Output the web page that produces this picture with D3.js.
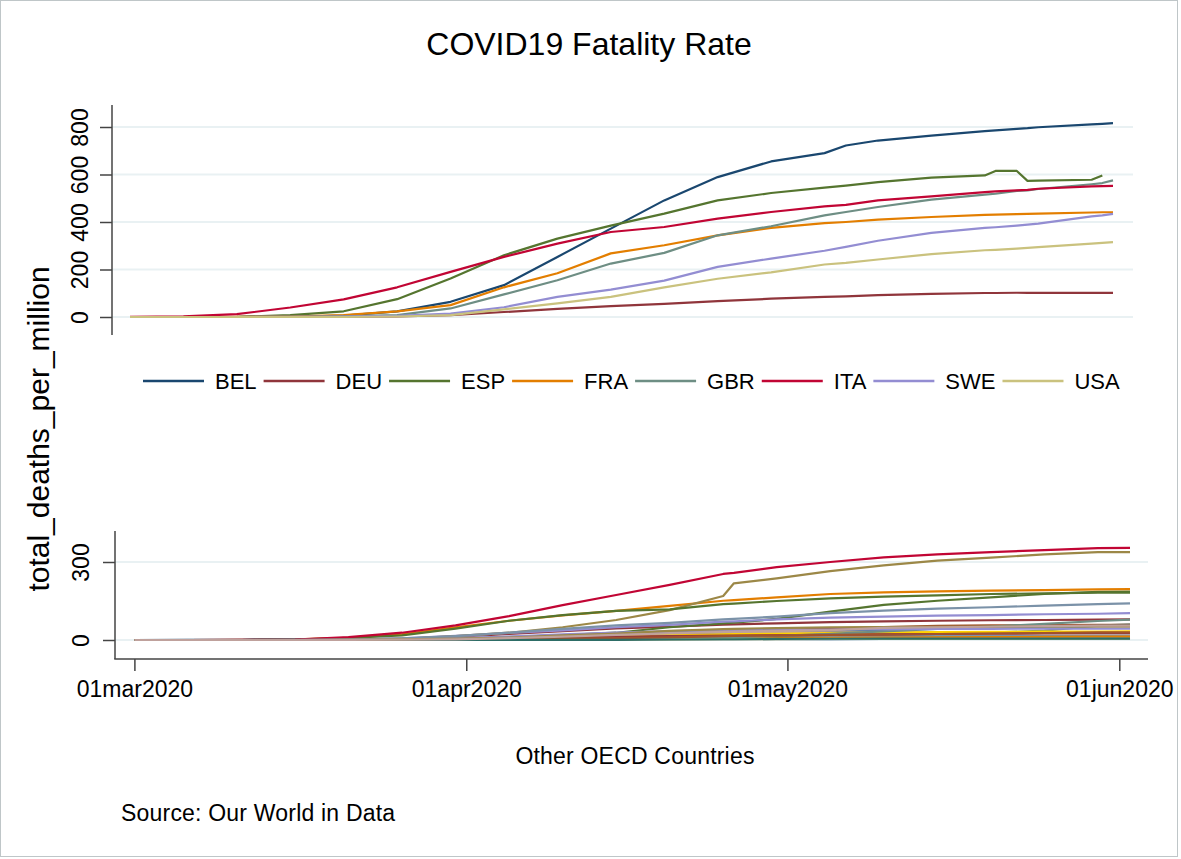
<!DOCTYPE html>
<html>
<head>
<meta charset="utf-8">
<script src="https://cdn.jsdelivr.net/npm/d3@7"></script>
<style>
body{margin:0;background:#fff;}
text{font-family:"Liberation Sans",Arial,sans-serif;fill:#000;}
</style>
</head>
<body>
<script>
// top panel: dates and total_deaths_per_million for the 8 named countries
var topDates = ["2020-03-01","2020-03-06","2020-03-11","2020-03-16","2020-03-21","2020-03-26","2020-03-31",
                "2020-04-05","2020-04-10","2020-04-15","2020-04-20","2020-04-25","2020-04-30","2020-05-05",
                "2020-05-07","2020-05-10","2020-05-15","2020-05-20","2020-05-21","2020-05-23","2020-05-24",
                "2020-05-25","2020-05-30","2020-05-31","2020-06-01"];
var topCountries = ["BEL","DEU","ESP","FRA","GBR","ITA","SWE","USA"];
var BEL = [0,0,0,1,6,24,64,134,253,372,491,589,655,690,722,743,764,783,786,792,795,799,811,813,816];
var DEU = [0,0,0,0,1,3,8,21,34,46,55,67,77,85,87,92,97,101,101,102,102,102,102,102,102];
var ESP = [0,0,1,8,24,75,162,260,330,385,435,491,522,545,553,568,587,596,615,615,573,574,578,596,null];
var FRA = [0,0,1,2,8,24,50,125,184,268,302,344,375,395,400,410,421,430,431,433,434,435,440,441,441];
var GBR = [0,0,0,1,3,8,36,95,155,225,270,344,382,428,442,463,494,515,519,531,533,539,559,564,575];
var ITA = [1,3,12,40,74,125,190,253,309,358,379,414,442,466,472,491,508,526,529,533,535,540,550,551,552];
var SWE = [0,0,0,1,2,5,14,41,85,115,153,211,246,279,295,321,354,375,378,385,389,393,424,428,434];
var USA = [0,0,0,0,0,2,8,32,57,85,125,161,188,221,228,242,265,281,283,288,291,294,309,312,315];
var topValues = [BEL, DEU, ESP, FRA, GBR, ITA, SWE, USA];
var topTicks = [0, 200, 400, 600, 800];

// bottom panel: other OECD countries
var botDates = ["2020-03-01","2020-03-06","2020-03-11","2020-03-16","2020-03-21","2020-03-26","2020-03-31",
                "2020-04-05","2020-04-10","2020-04-15","2020-04-20","2020-04-25","2020-04-26","2020-04-30",
                "2020-05-05","2020-05-10","2020-05-15","2020-05-20","2020-05-25","2020-05-30","2020-06-02"];
var botCountries = ["AUS","AUT","CAN","CHE","CHL","CZE","DNK","EST","FIN","GRC","HUN","IRL","ISL","ISR",
                    "JPN","KOR","LTU","LUX","LVA","MEX","NLD","NOR","NZL","POL","PRT","SVK","SVN","TUR"];
var AUS = [0,0,0,0.2,0.3,0.5,0.7,1.1,2,2.5,2.6,3,3,3.6,3.7,3.8,3.9,3.9,4,4,4];
var AUT = [0,0,0,0.1,1,4,12,23,34,45,51,59,60,64,69,72,74,76,77,78,79];
var CAN = [0,0,0,0.1,0.6,1.7,6,11,19,28,49,64,67,81,109,135,151,164,177,185,186];
var CHE = [0,0,0.3,2.5,8,22,49,74,95,112,131,151,153,164,177,183,187,190,192,195,196];
var CHL = [0,0,0,0,0,0.1,0.6,1.3,3,4.5,6,9,9.5,12,15,19,23,28,36,55,60];
var CZE = [0,0,0,0,0.2,1,3,7,11,15,16,19,20,21,23,25,27,29,30,30,30];
var DNK = [0,0,0,0.5,2.5,6,16,27,37,49,58,71,72,79,86,90,94,96,99,101,103];
var EST = [0,0,0,0,0,0.8,3,9,18,26,33,35,36,38,42,47,50,51,52,52,52];
var FIN = [0,0,0,0,0.2,1.6,2.4,4.5,8.5,13,18,31,33,38,45,50,54,56,57,58,58];
var GRC = [0,0,0,0.4,1.2,2.7,4.4,7,11,12,12,13,13,13,14,15,15,16,16,17,17];
var HUN = [0,0,0,0,0.1,1,2,3.5,8,12,19,22,23,27,32,38,45,48,51,54,55];
var IRL = [0,0,0,0,1,4,15,28,49,77,115,169,218,237,265,287,305,317,329,338,338];
var ISL = [0,0,0,0,0,6,6,12,17,23,29,29,29,29,29,29,29,29,29,29,29];
var ISR = [0,0,0,0,0,0.6,1.7,5,10,16,19,22,23,24,27,28,30,31,32,32,33];
var JPN = [0,0,0,0.2,0.3,0.4,0.5,0.7,1.1,1.4,2.2,2.9,3,3.5,4.6,5,5.5,6.1,6.5,7,7];
var KOR = [0,0.2,1,1.5,2,2.6,3.2,3.5,4,4.4,4.6,4.7,4.7,4.8,4.9,5,5.1,5.1,5.2,5.3,5.3];
var LTU = [0,0,0,0,0.4,1.1,2.6,5,8,13,15,17,17,18,21,22,23,24,25,26,26];
var LUX = [0,0,0,1.6,8,18,44,74,96,112,118,138,140,150,160,167,172,177,179,182,182];
var LVA = [0,0,0,0,0,0,0,0.5,1,2,6,7,7,8,8.5,9.5,10,11,12,13,13];
var MEX = [0,0,0,0,0,0,0.2,0.6,1.5,3.5,5.5,10,11,15,24,33,43,52,62,73,78];
var NLD = [0,0,0.3,1.5,11,28,56,92,134,173,212,254,258,280,300,318,329,338,346,353,354];
var NOR = [0,0,0,0,0.6,2.3,7,13,22,28,34,37,38,39,40,41,43,43,44,44,44];
var NZL = [0,0,0,0,0,0,0.2,0.2,0.3,1.9,2.4,3.5,3.5,3.7,4,4.3,4.3,4.3,4.3,4.5,4.5];
var POL = [0,0,0,0,0.1,0.4,1,4,5.5,7,10,15,16,17,20,21,23,25,27,29,29];
var PRT = [0,0,0,0.1,1.2,5.9,15,28,43,56,66,79,81,90,103,113,121,126,132,138,141];
var SVK = [0,0,0,0,0,0,0.2,0.2,0.6,0.7,2,2.8,2.8,4.2,4.9,5,5,5,5,5.1,5.1];
var SVN = [0,0,0,0,0.5,2.5,5.5,9.6,18,25,35,42,43,46,49,50,51,52,52,52,52];
var TUR = [0,0,0,0,0.2,1.1,2.5,7,13,20,25,31,32,35,38,47,49,51,53,55,55];
var botValues = [AUS,AUT,CAN,CHE,CHL,CZE,DNK,EST,FIN,GRC,HUN,IRL,ISL,ISR,
                 JPN,KOR,LTU,LUX,LVA,MEX,NLD,NOR,NZL,POL,PRT,SVK,SVN,TUR];
var botTicks = [0, 300];
var xTickDates = ["2020-03-01","2020-04-01","2020-05-01","2020-06-01"];

// stata s2color pens, used in order
var pens = ["#1a476f","#90353b","#55752f","#e37e00","#6e8e84","#c10534","#938dd2","#cac27e",
            "#a0522d","#7b92a8","#2d6d66","#9c8847","#bfa19c","#ffd200","#d9e6eb"];

function init(){
    var w = 1181;
    var h = 859;
    var parse = d3.timeParse("%Y-%m-%d");
    var axisColor = "#444";
    var gridColor = "#e9f1f3";
    var tickFont = "23px";

    var svg = d3.select("body")
                .append("svg")
                .attr("width", w)
                .attr("height", h);

    // graph region border
    svg.append("rect")
        .attr("x", 0.5).attr("y", 0.5)
        .attr("width", 1177).attr("height", 856)
        .attr("fill", "#fff")
        .attr("stroke", "#bfc6c8");

    //title
    svg.append("text")
        .attr("x", 589).attr("y", 55)
        .attr("text-anchor", "middle")
        .style("font-size", "32px")
        .text("COVID19 Fatality Rate");

    // y title shared by both panels
    svg.append("text")
        .attr("transform", "translate(49,429) rotate(-90)")
        .attr("text-anchor", "middle")
        .style("font-size", "30px")
        .text("total_deaths_per_million");

    //---------------- top panel
    var top = {left: 112, right: 1133, top: 105, bottom: 335};
    var xTop = d3.scaleTime()
                 .domain([parse("2020-03-01"), parse("2020-06-01")])
                 .range([130, 1113]);
    var yTop = d3.scaleLinear()
                 .domain([0, 800])
                 .range([317, 127]);

    drawGrid(top, yTop, topTicks);
    drawYAxis(top, yTop, topTicks, -24);

    var lineTop = d3.line()
                    .defined(function(d){ return d[1] != null; })
                    .x(function(d){ return xTop(d[0]); })
                    .y(function(d){ return yTop(d[1]); });

    svg.append("g").selectAll("path")
        .data(topValues)
        .enter()
        .append("path")
        .attr("d", function(vals){
            return lineTop(vals.map(function(v, i){ return [parse(topDates[i]), v]; }));
        })
        .attr("fill", "none")
        .attr("stroke", function(d, i){ return pens[i % pens.length]; })
        .attr("stroke-width", 2.2)
        .attr("stroke-linejoin", "round");

    //legend, one row
    var leg = svg.append("g");
    var lx = 143, ly = 381;
    topCountries.forEach(function(c, i){
        leg.append("line")
            .attr("x1", lx).attr("x2", lx + 61)
            .attr("y1", ly).attr("y2", ly)
            .attr("stroke", pens[i])
            .attr("stroke-width", 2.5);
        var t = leg.append("text")
            .attr("x", lx + 72).attr("y", ly + 8)
            .style("font-size", "22px")
            .text(c);
        lx = lx + 72 + t.node().getComputedTextLength() + 7;
    });

    //---------------- bottom panel
    var bot = {left: 115, right: 1148, top: 531, bottom: 659};
    var xBot = d3.scaleTime()
                 .domain([parse("2020-03-01"), parse("2020-06-01")])
                 .range([134.4, 1119.3]);
    var yBot = d3.scaleLinear()
                 .domain([0, 300])
                 .range([640, 562]);

    drawGrid(bot, yBot, botTicks);
    drawYAxis(bot, yBot, botTicks, -26);

    var lineBot = d3.line()
                    .x(function(d){ return xBot(d[0]); })
                    .y(function(d){ return yBot(d[1]); });

    svg.append("g").selectAll("path")
        .data(botValues)
        .enter()
        .append("path")
        .attr("d", function(vals){
            return lineBot(vals.map(function(v, i){ return [parse(botDates[i]), v]; }));
        })
        .attr("fill", "none")
        .attr("stroke", function(d, i){ return pens[i % pens.length]; })
        .attr("stroke-width", 2.2)
        .attr("stroke-linejoin", "round");

    // x axis of bottom panel
    var fmt = d3.timeFormat("%d%b%Y");
    var xAxis = d3.axisBottom(xBot)
                  .tickValues(xTickDates.map(parse))
                  .tickSize(12)
                  .tickPadding(10)
                  .tickFormat(function(d){ return fmt(d).toLowerCase(); });
    var gx = svg.append("g")
                .attr("transform", "translate(0," + bot.bottom + ")")
                .call(xAxis);
    gx.select(".domain").remove();
    gx.selectAll("line").attr("stroke", axisColor).attr("stroke-width", 1.5);
    gx.selectAll("text")
        .style("font-size", tickFont)
        .style("font-family", "'Liberation Sans',Arial,sans-serif")
        .attr("fill", "#000");
    svg.append("line")
        .attr("x1", bot.left - 0.75).attr("x2", bot.right)
        .attr("y1", bot.bottom).attr("y2", bot.bottom)
        .attr("stroke", axisColor).attr("stroke-width", 1.5);

    //notes
    svg.append("text")
        .attr("x", 635).attr("y", 764)
        .attr("text-anchor", "middle")
        .style("font-size", "23px")
        .style("letter-spacing", "0.2px")
        .text("Other OECD Countries");
    svg.append("text")
        .attr("x", 121).attr("y", 821)
        .style("font-size", "23px")
        .style("letter-spacing", "0.2px")
        .text("Source: Our World in Data");

    function drawGrid(r, y, ticks){
        svg.append("g").selectAll("line")
            .data(ticks)
            .enter()
            .append("line")
            .attr("x1", r.left).attr("x2", r.right)
            .attr("y1", function(d){ return y(d); })
            .attr("y2", function(d){ return y(d); })
            .attr("stroke", gridColor)
            .attr("stroke-width", 2);
    }

    function drawYAxis(r, y, ticks, labelOff){
        var ax = d3.axisLeft(y)
                   .tickValues(ticks)
                   .tickSize(12)
                   .tickFormat(d3.format("d"));
        var g = svg.append("g")
                   .attr("transform", "translate(" + r.left + ",0)")
                   .call(ax);
        g.select(".domain").remove();
        g.selectAll("line").attr("stroke", axisColor).attr("stroke-width", 1.5);
        g.selectAll("text")
            .attr("transform", "rotate(-90)")
            .attr("x", 0)
            .attr("y", labelOff)
            .attr("dy", 0)
            .attr("text-anchor", "middle")
            .attr("fill", "#000")
            .style("font-size", tickFont)
            .style("font-family", "'Liberation Sans',Arial,sans-serif");
        svg.append("line")
            .attr("x1", r.left).attr("x2", r.left)
            .attr("y1", r.top).attr("y2", r.bottom)
            .attr("stroke", axisColor).attr("stroke-width", 1.5);
    }
}
window.onload=init;
</script>
</body>
</html>
